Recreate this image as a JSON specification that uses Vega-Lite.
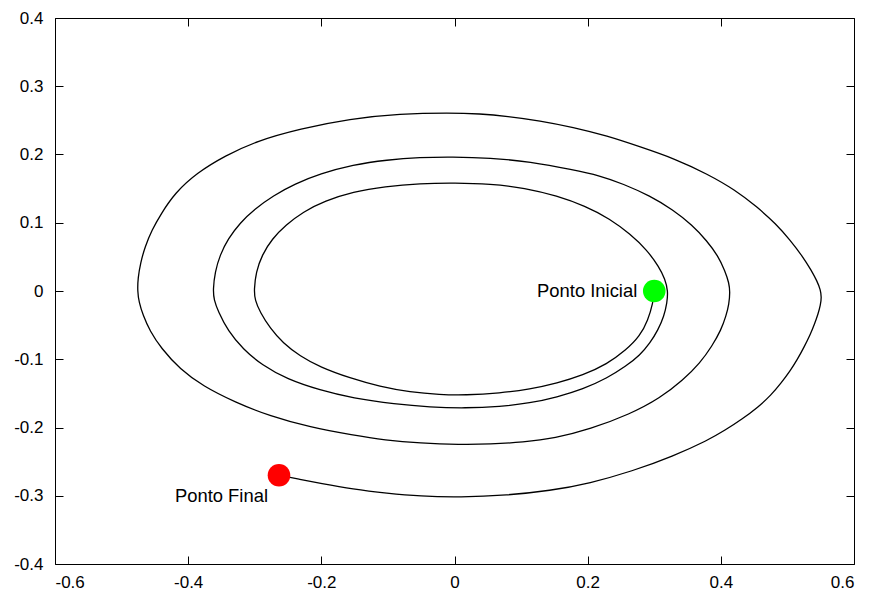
{
  "$schema": "https://vega.github.io/schema/vega-lite/v6.json",
  "autosize": "none",
  "width": 799,
  "height": 546,
  "padding": {"left": 55, "top": 18, "right": 18, "bottom": 28},
  "background": "white",
  "config": {
    "view": {"stroke": "black", "strokeWidth": 1},
    "axis": {
      "domain": false,
      "grid": false,
      "tickColor": "black",
      "tickSize": -8,
      "tickWidth": 1,
      "labelFont": "Liberation Sans",
      "labelFontSize": 17,
      "labelColor": "black",
      "title": null
    }
  },
  "datasets": {
    "spiral": [
      {"i": 0, "x": 0.3, "y": 0.0},
      {"i": 1, "x": 0.2981, "y": -0.0176},
      {"i": 2, "x": 0.2906, "y": -0.0426},
      {"i": 3, "x": 0.2786, "y": -0.066},
      {"i": 4, "x": 0.2576, "y": -0.0866},
      {"i": 5, "x": 0.2291, "y": -0.1071},
      {"i": 6, "x": 0.193, "y": -0.1233},
      {"i": 7, "x": 0.154, "y": -0.135},
      {"i": 8, "x": 0.1134, "y": -0.1438},
      {"i": 9, "x": 0.0683, "y": -0.1497},
      {"i": 10, "x": 0.0158, "y": -0.1526},
      {"i": 11, "x": -0.0218, "y": -0.1519},
      {"i": 12, "x": -0.0668, "y": -0.1482},
      {"i": 13, "x": -0.1119, "y": -0.1401},
      {"i": 14, "x": -0.157, "y": -0.1277},
      {"i": 15, "x": -0.202, "y": -0.1115},
      {"i": 16, "x": -0.2321, "y": -0.0954},
      {"i": 17, "x": -0.2576, "y": -0.0763},
      {"i": 18, "x": -0.2771, "y": -0.0543},
      {"i": 19, "x": -0.2921, "y": -0.0308},
      {"i": 20, "x": -0.2997, "y": -0.0132},
      {"i": 21, "x": -0.3011, "y": 0.0015},
      {"i": 22, "x": -0.2981, "y": 0.0279},
      {"i": 23, "x": -0.2891, "y": 0.0528},
      {"i": 24, "x": -0.2741, "y": 0.0763},
      {"i": 25, "x": -0.2531, "y": 0.0968},
      {"i": 26, "x": -0.2276, "y": 0.1159},
      {"i": 27, "x": -0.1945, "y": 0.1321},
      {"i": 28, "x": -0.1525, "y": 0.1453},
      {"i": 29, "x": -0.1044, "y": 0.1533},
      {"i": 30, "x": -0.0518, "y": 0.1577},
      {"i": 31, "x": 0.0008, "y": 0.1585},
      {"i": 32, "x": 0.0533, "y": 0.157},
      {"i": 33, "x": 0.1059, "y": 0.1511},
      {"i": 34, "x": 0.154, "y": 0.1394},
      {"i": 35, "x": 0.196, "y": 0.1247},
      {"i": 36, "x": 0.2336, "y": 0.1057},
      {"i": 37, "x": 0.2636, "y": 0.0836},
      {"i": 38, "x": 0.2891, "y": 0.0602},
      {"i": 39, "x": 0.3072, "y": 0.0352},
      {"i": 40, "x": 0.3162, "y": 0.0176},
      {"i": 41, "x": 0.3207, "y": 0.0},
      {"i": 42, "x": 0.3192, "y": -0.0176},
      {"i": 43, "x": 0.3147, "y": -0.0367},
      {"i": 44, "x": 0.3057, "y": -0.0572},
      {"i": 45, "x": 0.2936, "y": -0.0763},
      {"i": 46, "x": 0.2786, "y": -0.0939},
      {"i": 47, "x": 0.2576, "y": -0.1101},
      {"i": 48, "x": 0.2291, "y": -0.1277},
      {"i": 49, "x": 0.193, "y": -0.1438},
      {"i": 50, "x": 0.154, "y": -0.1555},
      {"i": 51, "x": 0.1134, "y": -0.1643},
      {"i": 52, "x": 0.0683, "y": -0.1695},
      {"i": 53, "x": 0.0158, "y": -0.1717},
      {"i": 54, "x": -0.0368, "y": -0.1702},
      {"i": 55, "x": -0.0894, "y": -0.1658},
      {"i": 56, "x": -0.1525, "y": -0.157},
      {"i": 57, "x": -0.202, "y": -0.1453},
      {"i": 58, "x": -0.2516, "y": -0.1291},
      {"i": 59, "x": -0.2891, "y": -0.1086},
      {"i": 60, "x": -0.3177, "y": -0.0851},
      {"i": 61, "x": -0.3402, "y": -0.0587},
      {"i": 62, "x": -0.3552, "y": -0.0293},
      {"i": 63, "x": -0.3612, "y": -0.0132},
      {"i": 64, "x": -0.3627, "y": 0.0015},
      {"i": 65, "x": -0.3597, "y": 0.0279},
      {"i": 66, "x": -0.3522, "y": 0.0528},
      {"i": 67, "x": -0.3402, "y": 0.0763},
      {"i": 68, "x": -0.3222, "y": 0.0998},
      {"i": 69, "x": -0.2997, "y": 0.1203},
      {"i": 70, "x": -0.2726, "y": 0.1394},
      {"i": 71, "x": -0.2396, "y": 0.157},
      {"i": 72, "x": -0.202, "y": 0.1717},
      {"i": 73, "x": -0.1525, "y": 0.1849},
      {"i": 74, "x": -0.1014, "y": 0.1922},
      {"i": 75, "x": -0.0518, "y": 0.1959},
      {"i": 76, "x": -0.0038, "y": 0.1966},
      {"i": 77, "x": 0.0533, "y": 0.1952},
      {"i": 78, "x": 0.1134, "y": 0.1893},
      {"i": 79, "x": 0.178, "y": 0.1776},
      {"i": 80, "x": 0.2185, "y": 0.1688},
      {"i": 81, "x": 0.2531, "y": 0.157},
      {"i": 82, "x": 0.2936, "y": 0.1394},
      {"i": 83, "x": 0.3282, "y": 0.1189},
      {"i": 84, "x": 0.3567, "y": 0.0968},
      {"i": 85, "x": 0.3792, "y": 0.0734},
      {"i": 86, "x": 0.3958, "y": 0.0514},
      {"i": 87, "x": 0.4063, "y": 0.0293},
      {"i": 88, "x": 0.4123, "y": 0.0117},
      {"i": 89, "x": 0.4138, "y": -0.0015},
      {"i": 90, "x": 0.4123, "y": -0.0191},
      {"i": 91, "x": 0.4078, "y": -0.0367},
      {"i": 92, "x": 0.4003, "y": -0.0572},
      {"i": 93, "x": 0.3868, "y": -0.0807},
      {"i": 94, "x": 0.3687, "y": -0.1057},
      {"i": 95, "x": 0.3432, "y": -0.1306},
      {"i": 96, "x": 0.3087, "y": -0.157},
      {"i": 97, "x": 0.2636, "y": -0.1805},
      {"i": 98, "x": 0.2035, "y": -0.2025},
      {"i": 99, "x": 0.151, "y": -0.2157},
      {"i": 100, "x": 0.1029, "y": -0.2216},
      {"i": 101, "x": 0.0533, "y": -0.2245},
      {"i": 102, "x": 0.0083, "y": -0.2252},
      {"i": 103, "x": -0.0518, "y": -0.223},
      {"i": 104, "x": -0.1044, "y": -0.2186},
      {"i": 105, "x": -0.1525, "y": -0.2113},
      {"i": 106, "x": -0.217, "y": -0.1996},
      {"i": 107, "x": -0.2771, "y": -0.1834},
      {"i": 108, "x": -0.3297, "y": -0.1629},
      {"i": 109, "x": -0.3777, "y": -0.1394},
      {"i": 110, "x": -0.4123, "y": -0.1145},
      {"i": 111, "x": -0.4408, "y": -0.0836},
      {"i": 112, "x": -0.4574, "y": -0.0587},
      {"i": 113, "x": -0.4679, "y": -0.0352},
      {"i": 114, "x": -0.4739, "y": -0.0161},
      {"i": 115, "x": -0.4761, "y": 0.0},
      {"i": 116, "x": -0.4754, "y": 0.0191},
      {"i": 117, "x": -0.4716, "y": 0.0411},
      {"i": 118, "x": -0.4649, "y": 0.0646},
      {"i": 119, "x": -0.4544, "y": 0.0895},
      {"i": 120, "x": -0.4408, "y": 0.113},
      {"i": 121, "x": -0.4198, "y": 0.1438},
      {"i": 122, "x": -0.3868, "y": 0.1732},
      {"i": 123, "x": -0.3447, "y": 0.1981},
      {"i": 124, "x": -0.2966, "y": 0.2201},
      {"i": 125, "x": -0.2321, "y": 0.2377},
      {"i": 126, "x": -0.157, "y": 0.2524},
      {"i": 127, "x": -0.0819, "y": 0.2597},
      {"i": 128, "x": -0.0068, "y": 0.2612},
      {"i": 129, "x": 0.0383, "y": 0.2597},
      {"i": 130, "x": 0.0789, "y": 0.2561},
      {"i": 131, "x": 0.1284, "y": 0.2495},
      {"i": 132, "x": 0.178, "y": 0.2399},
      {"i": 133, "x": 0.2291, "y": 0.2274},
      {"i": 134, "x": 0.2786, "y": 0.2113},
      {"i": 135, "x": 0.3312, "y": 0.1937},
      {"i": 136, "x": 0.3792, "y": 0.1717},
      {"i": 137, "x": 0.4213, "y": 0.1482},
      {"i": 138, "x": 0.4543, "y": 0.1233},
      {"i": 139, "x": 0.4829, "y": 0.0983},
      {"i": 140, "x": 0.5039, "y": 0.0748},
      {"i": 141, "x": 0.5234, "y": 0.0499},
      {"i": 142, "x": 0.5355, "y": 0.0308},
      {"i": 143, "x": 0.5445, "y": 0.0147},
      {"i": 144, "x": 0.5497, "y": 0.0015},
      {"i": 145, "x": 0.5512, "y": -0.0088},
      {"i": 146, "x": 0.5497, "y": -0.0205},
      {"i": 147, "x": 0.546, "y": -0.0338},
      {"i": 148, "x": 0.5407, "y": -0.0484},
      {"i": 149, "x": 0.534, "y": -0.0646},
      {"i": 150, "x": 0.525, "y": -0.0822},
      {"i": 151, "x": 0.5152, "y": -0.0998},
      {"i": 152, "x": 0.5039, "y": -0.1174},
      {"i": 153, "x": 0.4904, "y": -0.135},
      {"i": 154, "x": 0.4754, "y": -0.1526},
      {"i": 155, "x": 0.4559, "y": -0.1702},
      {"i": 156, "x": 0.4318, "y": -0.1878},
      {"i": 157, "x": 0.4063, "y": -0.204},
      {"i": 158, "x": 0.3807, "y": -0.2186},
      {"i": 159, "x": 0.3282, "y": -0.2421},
      {"i": 160, "x": 0.2666, "y": -0.2641},
      {"i": 161, "x": 0.2035, "y": -0.2817},
      {"i": 162, "x": 0.1434, "y": -0.2927},
      {"i": 163, "x": 0.0789, "y": -0.2993},
      {"i": 164, "x": 0.0083, "y": -0.3023},
      {"i": 165, "x": -0.0518, "y": -0.3008},
      {"i": 166, "x": -0.1014, "y": -0.2964},
      {"i": 167, "x": -0.1525, "y": -0.2905},
      {"i": 168, "x": -0.202, "y": -0.2817},
      {"i": 169, "x": -0.2321, "y": -0.2759},
      {"i": 170, "x": -0.2636, "y": -0.27}
    ],
    "pontos": [
      {"ponto": "Ponto Inicial", "x": 0.3, "y": 0.0},
      {"ponto": "Ponto Final", "x": -0.2636, "y": -0.27}
    ]
  },
  "layer": [
    {
      "data": {"name": "spiral"},
      "mark": {"type": "line", "interpolate": "basis", "color": "black", "strokeWidth": 1.3},
      "encoding": {
        "x": {
          "field": "x", "type": "quantitative",
          "scale": {"domain": [-0.6, 0.6], "nice": false, "zero": false},
          "axis": {
            "orient": "bottom",
            "values": [-0.6, -0.4, -0.2, 0, 0.2, 0.4, 0.6],
            "labelPadding": 18,
            "labelExpr": "datum.value == 0 ? '0' : (datum.value < 0 ? '-' : '') + format(abs(datum.value), '.1f')"
          }
        },
        "y": {
          "field": "y", "type": "quantitative",
          "scale": {"domain": [-0.4, 0.4], "nice": false, "zero": false},
          "axis": {
            "orient": "left",
            "values": [-0.4, -0.3, -0.2, -0.1, 0, 0.1, 0.2, 0.3, 0.4],
            "labelPadding": 20,
            "labelExpr": "datum.value == 0 ? '0' : (datum.value < 0 ? '-' : '') + format(abs(datum.value), '.1f')"
          }
        },
        "order": {"field": "i", "type": "quantitative"}
      }
    },
    {
      "data": {"name": "pontos"},
      "mark": {"type": "circle", "size": 510, "opacity": 1},
      "encoding": {
        "x": {
          "field": "x", "type": "quantitative",
          "axis": {"orient": "top", "labels": false, "values": [-0.6, -0.4, -0.2, 0, 0.2, 0.4, 0.6]}
        },
        "y": {
          "field": "y", "type": "quantitative",
          "axis": {"orient": "right", "labels": false, "values": [-0.4, -0.3, -0.2, -0.1, 0, 0.1, 0.2, 0.3, 0.4]}
        },
        "color": {
          "field": "ponto", "type": "nominal",
          "scale": {"domain": ["Ponto Inicial", "Ponto Final"], "range": ["#00ff00", "#ff0000"]},
          "legend": null
        }
      }
    },
    {
      "data": {"name": "pontos"},
      "transform": [{"filter": "datum.ponto == 'Ponto Inicial'"}],
      "mark": {"type": "text", "align": "right", "baseline": "alphabetic", "dx": -17, "dy": 6, "font": "Liberation Sans", "fontSize": 18.4, "color": "black"},
      "encoding": {
        "x": {"field": "x", "type": "quantitative", "axis": null},
        "y": {"field": "y", "type": "quantitative", "axis": null},
        "text": {"field": "ponto"}
      }
    },
    {
      "data": {"name": "pontos"},
      "transform": [{"filter": "datum.ponto == 'Ponto Final'"}],
      "mark": {"type": "text", "align": "right", "baseline": "alphabetic", "dx": -11, "dy": 27, "font": "Liberation Sans", "fontSize": 18.4, "color": "black"},
      "encoding": {
        "x": {"field": "x", "type": "quantitative", "axis": null},
        "y": {"field": "y", "type": "quantitative", "axis": null},
        "text": {"field": "ponto"}
      }
    }
  ],
  "resolve": {"axis": {"x": "independent", "y": "independent"}}
}
